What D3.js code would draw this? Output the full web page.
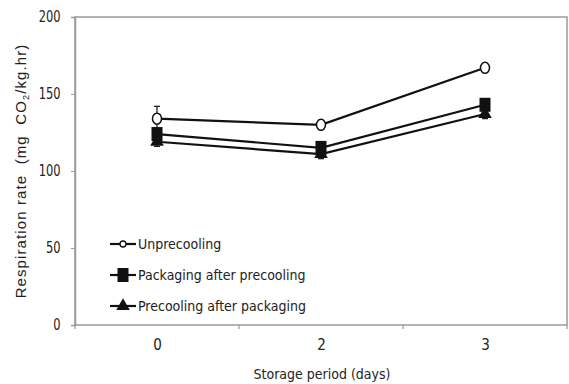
<!DOCTYPE html>
<html>
<head>
<meta charset="utf-8">
<script src="https://cdn.jsdelivr.net/npm/d3@7"></script>
<style>
  body { margin: 0; background: #fff; }
  svg { display: block; }
</style>
</head>
<body>
<svg id="chart" width="569" height="384"></svg>
<script>
// Storage days and respiration rates for each treatment
const days = ["0", "2", "3"];
const yTicks = [0, 50, 100, 150, 200];
const seriesNames = ["Unprecooling", "Packaging after precooling", "Precooling after packaging"];
const unprecooling = [134, 130, 167];
const unprecoolingErr = [8, 3, 2];
const packagingAfter = [124, 115, 143];
const packagingAfterErr = [3, 3, 3];
const precoolingAfter = [119, 111, 137];
const precoolingAfterErr = [3, 3, 3];

const series = [
  { name: seriesNames[0], values: unprecooling, errs: unprecoolingErr, symbol: "circle" },
  { name: seriesNames[1], values: packagingAfter, errs: packagingAfterErr, symbol: "square" },
  { name: seriesNames[2], values: precoolingAfter, errs: precoolingAfterErr, symbol: "triangle" }
];

const svg = d3.select("#chart");
const m = { left: 75, right: 567, top: 17, bottom: 325 };

const x = d3.scalePoint().domain(days).range([m.left, m.right]).padding(0.5);
const xBand = d3.scaleBand().domain(days).range([m.left, m.right]);
const y = d3.scaleLinear().domain([0, 200]).range([m.bottom, m.top]);

const narrow = '"DejaVu Sans Condensed", "Liberation Sans Narrow", sans-serif';

// plot frame
svg.append("rect")
  .attr("x", m.left).attr("y", m.top)
  .attr("width", m.right - m.left).attr("height", m.bottom - m.top)
  .attr("fill", "none").attr("stroke", "#9a9a9a").attr("stroke-width", 1.5);

// y axis
const yAxis = svg.append("g")
  .attr("transform", `translate(${m.left},0)`)
  .call(d3.axisLeft(y).tickValues(yTicks).tickSize(4).tickPadding(13));
yAxis.select(".domain").attr("stroke", "#9a9a9a").attr("stroke-width", 1.5);
yAxis.selectAll(".tick line").attr("stroke", "#9a9a9a");
yAxis.selectAll(".tick text").attr("font-size", 15).attr("fill", "#222")
  .attr("font-family", narrow).attr("transform", "scale(0.85,1)");

// x axis: ticks at band boundaries, labels at band centres
const xAxisG = svg.append("g").attr("transform", `translate(0,${m.bottom})`);
xAxisG.call(d3.axisBottom(x).tickSize(0).tickPadding(14));
xAxisG.select(".domain").remove();
xAxisG.selectAll(".tick text").attr("font-size", 15).attr("fill", "#222")
  .attr("font-family", narrow);
const bounds = days.slice(1).map(d => xBand(d)).concat([m.left, m.right]);
xAxisG.selectAll("line.sep").data(bounds).join("line")
  .attr("class", "sep")
  .attr("x1", d => d).attr("x2", d => d)
  .attr("y1", 0).attr("y2", 4)
  .attr("stroke", "#9a9a9a").attr("stroke-width", 1.2);

// axis titles
svg.append("text")
  .attr("x", x("2") + 1).attr("y", 379)
  .attr("text-anchor", "middle")
  .attr("font-family", narrow).attr("font-size", 14).attr("fill", "#222")
  .text("Storage period (days)");

const yt = svg.append("text")
  .attr("transform", `translate(26,${(m.top + m.bottom) / 2}) rotate(-90)`)
  .attr("text-anchor", "middle")
  .style("white-space", "pre")
  .attr("font-family", "'Liberation Sans', Arial, sans-serif").attr("font-size", 15)
  .attr("letter-spacing", 1.1).attr("fill", "#222");
yt.append("tspan").text("Respiration rate  (mg  CO");
yt.append("tspan").attr("font-size", 9).attr("dy", 3).text("2");
yt.append("tspan").attr("dy", -3).text("/kg.hr)");

// markers
function drawMarker(g, symbol, cx, cy) {
  if (symbol === "circle") {
    g.append("ellipse").attr("cx", cx).attr("cy", cy).attr("rx", 4.5).attr("ry", 5.5)
      .attr("fill", "#fff").attr("stroke", "#111").attr("stroke-width", 1.5);
  } else if (symbol === "square") {
    g.append("rect").attr("x", cx - 5.5).attr("y", cy - 7).attr("width", 11).attr("height", 14)
      .attr("fill", "#111");
  } else {
    g.append("path")
      .attr("d", d3.symbol().type(d3.symbolTriangle).size(80)())
      .attr("transform", `translate(${cx},${cy})`)
      .attr("fill", "#111");
  }
}

const line = d3.line().x((d, i) => x(days[i])).y(d => y(d));

series.forEach(s => {
  const g = svg.append("g");
  // error bars
  s.values.forEach((v, i) => {
    const cx = x(days[i]);
    g.append("line").attr("x1", cx).attr("x2", cx)
      .attr("y1", y(v + s.errs[i])).attr("y2", y(v - s.errs[i]))
      .attr("stroke", "#111").attr("stroke-width", 1.2);
    [v + s.errs[i], v - s.errs[i]].forEach(e => {
      g.append("line").attr("x1", cx - 3).attr("x2", cx + 3)
        .attr("y1", y(e)).attr("y2", y(e))
        .attr("stroke", "#111").attr("stroke-width", 1.2);
    });
  });
  g.append("path").datum(s.values)
    .attr("d", line).attr("fill", "none")
    .attr("stroke", "#111").attr("stroke-width", 2.2);
  s.values.forEach((v, i) => drawMarker(g, s.symbol, x(days[i]), y(v)));
});

// legend
const legendY = [244, 275, 306];
series.forEach((s, i) => {
  const g = svg.append("g");
  const ly = legendY[i];
  g.append("line").attr("x1", 110).attr("x2", 136).attr("y1", ly).attr("y2", ly)
    .attr("stroke", "#111").attr("stroke-width", 2.2);
  if (s.symbol === "circle") {
    g.append("circle").attr("cx", 123).attr("cy", ly).attr("r", 3)
      .attr("fill", "#fff").attr("stroke", "#111").attr("stroke-width", 1.3);
  } else {
    drawMarker(g, s.symbol, 123, ly);
  }
  g.append("text").attr("x", 138).attr("y", ly + 5)
    .attr("font-family", narrow).attr("font-size", 14).attr("fill", "#222")
    .text(s.name);
});
</script>
</body>
</html>
